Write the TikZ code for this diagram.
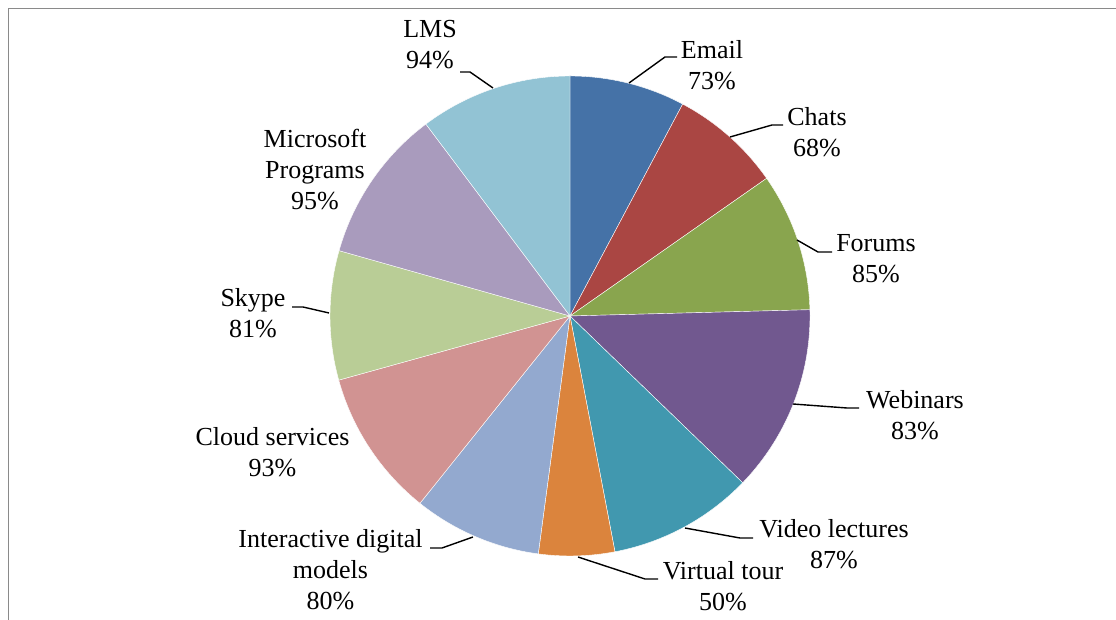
\documentclass[tikz,border=0pt]{standalone}
\usepackage{fontspec}
\setmainfont{Liberation Serif}
\definecolor{cEmail}{HTML}{4572A7}
\definecolor{cChats}{HTML}{AA4643}
\definecolor{cForums}{HTML}{89A54E}
\definecolor{cWeb}{HTML}{71588F}
\definecolor{cVideo}{HTML}{4198AF}
\definecolor{cVirtual}{HTML}{DB843D}
\definecolor{cInter}{HTML}{93A9CF}
\definecolor{cCloud}{HTML}{D19392}
\definecolor{cSkype}{HTML}{B9CD96}
\definecolor{cMS}{HTML}{A99BBD}
\definecolor{cLMS}{HTML}{92C3D4}
\definecolor{frame}{HTML}{8A8A8A}
\begin{document}
\begin{tikzpicture}[x=1pt,y=1pt,
  lbl/.style={align=center,inner sep=0pt,font=\fontsize{26}{31}\selectfont},
  leader/.style={draw=black,line width=1.4pt},
  slice/.style={draw=white,line width=0.4pt}]
\useasboundingbox (0,0) rectangle (1116,620);
\fill[white] (0,0) rectangle (1116,620);
% frame
\draw[frame,line width=1.6pt] (8.5,0) -- (8.5,611.5) -- (1116,611.5);
\coordinate (C) at (570,304);
% slices
\newcommand{\pieslice}[3]{\fill[#1,slice] (C) -- ++(#2:240pt) arc[start angle=#2,end angle=#3,radius=240pt] -- cycle;}
\pieslice{cEmail}{90}{62}
\pieslice{cChats}{62}{35}
\pieslice{cForums}{35}{1.5}
\pieslice{cWeb}{1.5}{-44}
\pieslice{cVideo}{-44}{-79.2}
\pieslice{cVirtual}{-79.2}{-97.6}
\pieslice{cInter}{-97.6}{-128.7}
\pieslice{cCloud}{-128.7}{-164.5}
\pieslice{cSkype}{-164.5}{-195.8}
\pieslice{cMS}{-195.8}{-233.1}
\pieslice{cLMS}{-233.1}{-270}
% labels
\node[lbl] (tLMS) at (430,575.8) {LMS\\94\%};
\node[lbl] (tEmail) at (712,555) {Email\\73\%};
\node[lbl] (tChats) at (817,488) {Chats\\68\%};
\node[lbl] (tForums) at (876,361.4) {Forums\\85\%};
\node[lbl] (tWeb) at (915,205) {Webinars\\83\%};
\node[lbl] (tVideo) at (834,75.4) {Video lectures\\87\%};
\node[lbl] (tVirtual) at (723,34) {Virtual tour\\50\%};
\node[lbl] (tInter) at (330.5,50) {Interactive digital\\models\\80\%};
\node[lbl] (tCloud) at (272.5,167.4) {Cloud services\\93\%};
\node[lbl] (tSkype) at (253,306.4) {Skype\\81\%};
\node[lbl] (tMS) at (315,450) {Microsoft\\Programs\\95\%};
% leader coordinates
\coordinate (pLMS) at (493,532); \coordinate (kLMS) at (470,548); \coordinate (eLMS) at (460,548);
\coordinate (pEmail) at (629,537); \coordinate (kEmail) at (665,563); \coordinate (eEmail) at (677,563);
\coordinate (pChats) at (730,483); \coordinate (kChats) at (772,495); \coordinate (eChats) at (783,495);
\coordinate (pForums) at (797,380); \coordinate (kForums) at (818,368); \coordinate (eForums) at (832,368);
\coordinate (pWeb) at (793,216); \coordinate (kWeb) at (847,212); \coordinate (eWeb) at (859,212);
\coordinate (pVideo) at (685,92); \coordinate (kVideo) at (740,82); \coordinate (eVideo) at (753,82);
\coordinate (pVirtual) at (578,63); \coordinate (kVirtual) at (645,41); \coordinate (eVirtual) at (658,41);
\coordinate (pInter) at (473,83); \coordinate (kInter) at (442,72); \coordinate (eInter) at (430,72);
\coordinate (pSkype) at (329,307); \coordinate (kSkype) at (303,313); \coordinate (eSkype) at (292,313);
\foreach \n in {LMS,Email,Chats,Forums,Web,Video,Virtual,Inter,Skype}{
  \draw[leader] (p\n) -- (k\n) -- (e\n);
}
\end{tikzpicture}
\end{document}
